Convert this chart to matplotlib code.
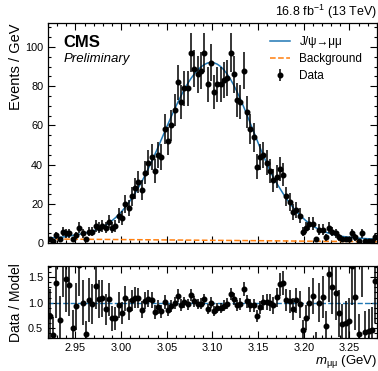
import numpy as np
import matplotlib
matplotlib.use("Agg")
import matplotlib.pyplot as plt
from matplotlib.ticker import MultipleLocator, FormatStrFormatter

plt.rcParams['font.family'] = ['Liberation Sans', 'DejaVu Sans']
plt.rcParams['mathtext.fontset'] = 'custom'
plt.rcParams['mathtext.rm'] = 'Liberation Sans'
plt.rcParams['mathtext.it'] = 'Liberation Sans:italic'
plt.rcParams['mathtext.bf'] = 'Liberation Sans:bold'

# binning of the dimuon mass histogram
m_lo, m_hi, n_bins = 2.92, 3.28, 100

# events / GeV per bin
data = [2, 1, 4, 2, 6, 5, 5, 2, 4, 8,
        5, 2, 6, 6, 9, 8, 9, 8, 11, 8,
        9, 14, 13, 20, 18, 24, 28, 31, 27, 36,
        41, 44, 37, 45, 44, 58, 52, 60, 68, 82,
        72, 79, 79, 97, 89, 86, 88, 97, 81, 92,
        77, 81, 81, 83, 84, 97, 86, 73, 72, 88,
        67, 58, 54, 39, 44, 45, 41, 37, 32, 34,
        38, 35, 24, 21, 16, 17, 14, 6, 8, 10,
        10, 2, 7, 7, 3, 8, 6, 5, 3, 2,
        2, 2, 5, 3, 1, 5, 1, 1, 1, 3]

# total fit model (signal + background) at the bin centres
model = [2.7, 2.8, 2.9, 3.0, 3.2, 3.4, 3.7, 4.0, 4.3, 4.6,
         5.0, 5.3, 5.7, 6.2, 6.8, 7.5, 8.3, 9.2, 10.3, 11.6,
         13.0, 14.6, 16.4, 18.4, 20.6, 23.0, 25.6, 28.4, 31.4, 34.6,
         38.0, 41.6, 45.3, 49.1, 53.0, 56.9, 60.8, 64.6, 68.3, 71.9,
         75.3, 78.5, 81.4, 84.0, 86.3, 88.2, 89.8, 91.0, 91.8, 92.1,
         91.9, 91.2, 90.0, 88.3, 86.1, 83.5, 80.5, 77.1, 73.4, 69.5,
         65.4, 61.2, 57.0, 52.8, 48.6, 44.6, 40.7, 37.0, 33.6, 30.7,
         28.0, 25.3, 22.8, 20.5, 18.3, 16.3, 14.5, 12.9, 11.4, 10.1,
         8.9, 7.9, 7.0, 6.3, 5.6, 5.1, 4.6, 4.2, 3.8, 3.5,
         3.3, 3.1, 2.9, 2.7, 2.6, 2.5, 2.4, 2.3, 2.2, 2.1]

# background component
bkg_mass = [2.92, 2.96, 3.00, 3.04, 3.08, 3.12, 3.16, 3.20, 3.24, 3.28]
bkg = [2.2, 2.05, 1.9, 1.75, 1.6, 1.45, 1.3, 1.1, 0.95, 0.8]

edges = np.linspace(m_lo, m_hi, n_bins + 1)
centers = 0.5 * (edges[1:] + edges[:-1])
data = np.array(data, dtype=float)
model = np.array(model)
err = np.sqrt(data)

fig = plt.figure(figsize=(3.78, 3.71), dpi=100)
ax = fig.add_axes([0.127, 0.3442, 0.870, 0.5928])
rax = fig.add_axes([0.127, 0.0881, 0.870, 0.1949])

blue = '#1f77b4'
orange = '#ff7f0e'

ax.plot(centers, model, color=blue, lw=1.1, label='J/ψ→μμ')
ax.plot(bkg_mass, bkg, ls='--', color=orange, lw=1.1, label='Background')
ax.errorbar(centers, data, yerr=err, fmt='o', color='k', ms=3.3, lw=1.1,
            label='Data')

ax.set_xlim(m_lo, m_hi)
ax.set_ylim(0, 112)
ax.xaxis.set_major_locator(MultipleLocator(0.05))
ax.xaxis.set_minor_locator(MultipleLocator(0.01))
ax.yaxis.set_major_locator(MultipleLocator(20))
ax.yaxis.set_minor_locator(MultipleLocator(5))
ax.tick_params(labelbottom=False)

leg = ax.legend(loc='upper right', bbox_to_anchor=(0.97, 0.965), frameon=False,
                fontsize=8.5, handlelength=1.7, labelspacing=0.45,
                borderaxespad=0, handletextpad=0.8)

ax.text(0.046, 0.945, 'CMS', transform=ax.transAxes, fontsize=12,
        fontweight='bold', ha='left', va='top')
ax.text(0.046, 0.865, 'Preliminary', transform=ax.transAxes, fontsize=9.5,
        style='italic', ha='left', va='top')
ax.text(1.0, 1.012, r'16.8 fb$^{-1}$ (13 TeV)', transform=ax.transAxes,
        fontsize=9, ha='right', va='bottom')

ax.set_ylabel('Events / GeV', fontsize=10.5, loc='top')

# ratio panel
ratio = data / model
ratio_err = err / model
rax.axhline(1.0, color=blue, ls='--', lw=1.0)
rax.errorbar(centers, ratio, yerr=ratio_err, fmt='o', color='k', ms=3.3,
             lw=1.1)
rax.set_xlim(m_lo, m_hi)
rax.set_ylim(0.3, 1.72)
rax.xaxis.set_major_locator(MultipleLocator(0.05))
rax.xaxis.set_minor_locator(MultipleLocator(0.01))
rax.yaxis.set_major_locator(MultipleLocator(0.5))
rax.yaxis.set_minor_locator(MultipleLocator(0.1))
rax.yaxis.set_major_formatter(FormatStrFormatter('%.1f'))
rax.set_ylabel('Data / Model', fontsize=10)
rax.set_xlabel(r'$m_{\mathrm{\mu\mu}}$ (GeV)', fontsize=9.5, loc='right',
               labelpad=0)

for a in (ax, rax):
    a.tick_params(which='both', direction='in', top=True, right=True,
                  labelsize=7.8, width=0.8)
    a.tick_params(which='major', length=5)
    a.tick_params(which='minor', length=2.5)
    for s in a.spines.values():
        s.set_linewidth(0.9)

ax.yaxis.set_label_coords(-0.075, 1.0)
rax.yaxis.set_label_coords(-0.075, 0.5)

fig.savefig('out.png', dpi=100)
